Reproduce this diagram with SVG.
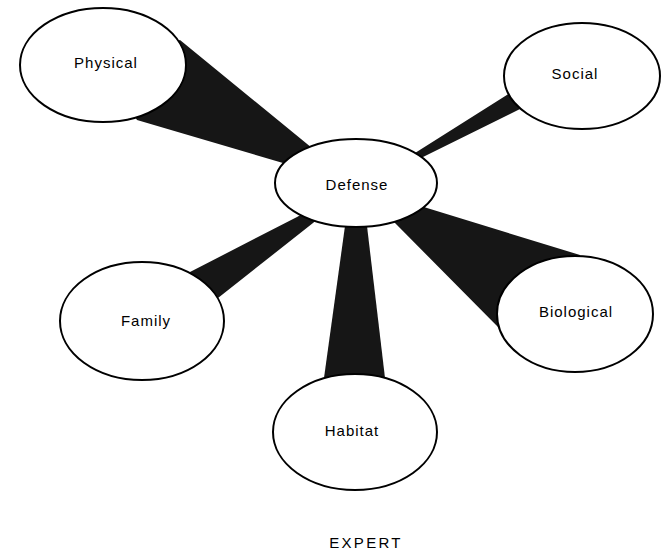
<svg xmlns="http://www.w3.org/2000/svg" width="667" height="553" viewBox="0 0 667 553">
<style>
.node ellipse{fill:#fff;stroke:#000;stroke-width:2}
.node text{font-family:"Liberation Sans",Arial,sans-serif;font-size:15px;letter-spacing:1px;text-anchor:middle;fill:#000}
.wedge{fill:#161616}
.caption{font-family:"Liberation Sans",Arial,sans-serif;font-size:15px;letter-spacing:2.3px;text-anchor:middle;fill:#000}
</style>
<rect width="667" height="553" fill="#fff"/>
<g id="connectors">
<polygon class="wedge" points="103,65 180,40 312,148 356,183 300,168 137,120"/>
<polygon class="wedge" points="582,76 510,93 415,153 356,183 423,157 522,108"/>
<polygon class="wedge" points="142,321 190,272 297,217 356,183 313,223 218,298"/>
<polygon class="wedge" points="575,314 580,255 427,208 356,183 395,223 498,327"/>
<polygon class="wedge" points="356,183 345,226 324,378 355,432 385,378 367,226"/>
</g>
<g id="node-physical" class="node"><ellipse cx="103" cy="65" rx="83" ry="57"/><text x="106" y="68">Physical</text></g>
<g id="node-social" class="node"><ellipse cx="582" cy="76" rx="78" ry="53"/><text x="575" y="79">Social</text></g>
<g id="node-defense" class="node"><ellipse cx="356" cy="183" rx="81" ry="44"/><text x="357" y="190">Defense</text></g>
<g id="node-family" class="node"><ellipse cx="142" cy="321" rx="82" ry="59"/><text x="146" y="326">Family</text></g>
<g id="node-biological" class="node"><ellipse cx="575" cy="314" rx="78" ry="58"/><text x="576" y="317">Biological</text></g>
<g id="node-habitat" class="node"><ellipse cx="355" cy="432" rx="82" ry="58"/><text x="352" y="436">Habitat</text></g>
<text class="caption" x="366" y="548">EXPERT</text>
</svg>
